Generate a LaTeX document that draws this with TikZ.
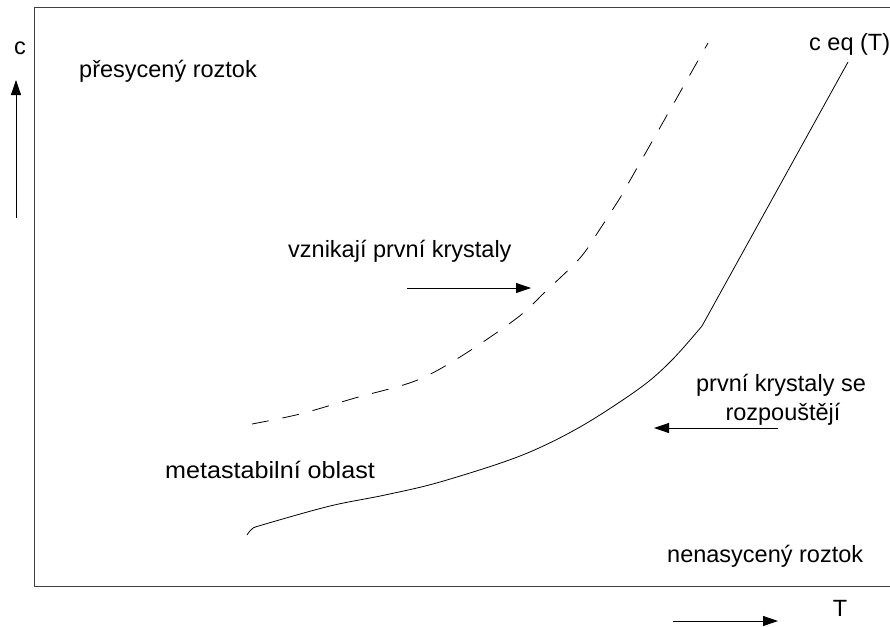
\documentclass[tikz,border=0pt]{standalone}
\usepackage{fontspec}
\setmainfont{Liberation Sans}
\usetikzlibrary{arrows.meta}
\begin{document}
\begin{tikzpicture}[x=1pt,y=-1pt,
  lbl/.style={inner sep=0pt,font=\fontsize{23.5}{28}\selectfont},
  axis/.style={line width=0.8pt,-{Triangle[length=15pt,width=10pt]}},
  curve/.style={line width=0.8pt,black},
  frame/.style={line width=1pt,black!75}]
\useasboundingbox (0,0) rectangle (890,626);
\draw[frame] (891,8) -- (34,8) -- (34,586) -- (891,586);
% labels
\node[lbl,anchor=base] (c) at (20,54) {c};
\node[lbl,anchor=base west] (pres) at (79,77) {přesycený roztok};
\node[lbl,anchor=base west] (ceq) at (809,50) {c eq (T)};
\node[lbl,anchor=base west] (vzn) at (288,257) {vznikají první krystaly};
\node[lbl,anchor=base] (prv1) at (781,391) {první krystaly se};
\node[lbl,anchor=base] (prv2) at (783,420) {rozpouštějí};
\node[lbl,anchor=base west] (meta) at (165,478) {\scalebox{1.07}[1]{metastabilní oblast}};
\node[lbl,anchor=base west] (nena) at (667,562) {nenasycený roztok};
\node[lbl,anchor=base] (T) at (840,616) {T};
% arrows
\coordinate (cA) at (16,218); \coordinate (cB) at (16,80);
\draw[axis] (cA) -- (cB);
\coordinate (tA) at (673,621); \coordinate (tB) at (778,621);
\draw[axis] (tA) -- (tB);
\coordinate (vA) at (407,288); \coordinate (vB) at (531,288);
\draw[axis] (vA) -- (vB);
\coordinate (rA) at (778,428); \coordinate (rB) at (654,428);
\draw[axis] (rA) -- (rB);
% equilibrium curve
\draw[curve] plot[smooth,tension=0.55] coordinates {(247,535) (252,529) (262,525) (330,506) (385,495) (440,482) (520,456) (580,427) (640,388) (672,360) (702,326)} -- (848,62);
% metastable limit
\draw[curve,dash pattern=on 17pt off 14pt] plot[smooth,tension=0.55] coordinates {(252,424) (300,414) (355,398) (415,381) (460,357) (517,318) (545,292) (580,258) (600,229) (620,198)} -- (708,43);
\end{tikzpicture}
\end{document}
